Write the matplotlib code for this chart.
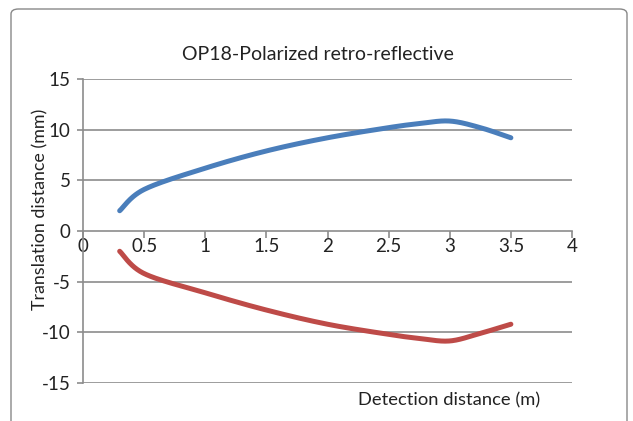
import numpy as np
import matplotlib
matplotlib.use("Agg")
import matplotlib.pyplot as plt
from matplotlib.patches import FancyBboxPatch

plt.rcParams['font.family'] = ['Lato', 'DejaVu Sans']
plt.rcParams['axes.unicode_minus'] = False

title = "OP18-Polarized retro-reflective"
x_label = "Detection distance (m)"
y_label = "Translation distance (mm)"

distance = [0.3, 0.5, 1.0, 1.5, 2.0, 2.5, 2.75, 3.0, 3.25, 3.5]
upper = [2.0, 4.1, 6.2, 7.9, 9.2, 10.2, 10.6, 10.85, 10.2, 9.2]
lower = [-2.0, -4.2, -6.1, -7.8, -9.2, -10.2, -10.6, -10.85, -10.1, -9.2]

x_ticks = [0, 0.5, 1, 1.5, 2, 2.5, 3, 3.5, 4]
x_tick_labels = ["0", "0.5", "1", "1.5", "2", "2.5", "3", "3.5", "4"]
y_ticks = [-15, -10, -5, 0, 5, 10, 15]


def smooth(xs, ys, n=40):
    xs = np.asarray(xs, float)
    ys = np.asarray(ys, float)
    pts = np.column_stack([xs, ys])
    out = []
    m = len(pts)
    t = np.linspace(0, 1, n)[:, None]
    for i in range(m - 1):
        p0 = pts[i - 1] if i > 0 else pts[i]
        p1 = pts[i]
        p2 = pts[i + 1]
        p3 = pts[i + 2] if i + 2 < m else pts[i + 1]
        c1 = p1 + (p2 - p0) / 6.0
        c2 = p2 - (p3 - p1) / 6.0
        seg = ((1 - t) ** 3) * p1 + 3 * ((1 - t) ** 2) * t * c1 + 3 * (1 - t) * t ** 2 * c2 + t ** 3 * p2
        out.append(seg if i == 0 else seg[1:])
    arr = np.vstack(out)
    return arr[:, 0], arr[:, 1]


W, H = 633, 421
fig = plt.figure(figsize=(W / 100, H / 100), dpi=100)

# chart border
border = FancyBboxPatch((11 / W, -0.2), (627 - 11) / W, (H - 9) / H + 0.2,
                        boxstyle="round,pad=0,rounding_size=0.012",
                        transform=fig.transFigure, fill=False,
                        edgecolor="#888888", linewidth=1.0)
fig.patches.append(border)

ax = fig.add_axes([83 / W, 1 - 383 / H, (572 - 83) / W, (383 - 79) / H])
ax.set_xlim(0, 4)
ax.set_ylim(-15, 15)

grid_c = "#8c8c8c"
for yv in y_ticks:
    if yv != 0:
        ax.axhline(yv, color=grid_c, lw=1.2, zorder=1)

for s in ["top", "right"]:
    ax.spines[s].set_visible(False)
ax.spines["bottom"].set_position(("data", 0))
ax.spines["bottom"].set_color(grid_c)
ax.spines["bottom"].set_linewidth(1.2)
ax.spines["left"].set_color(grid_c)
ax.spines["left"].set_linewidth(1.2)

ax.set_xticks(x_ticks)
ax.set_xticklabels(x_tick_labels)
ax.set_yticks(y_ticks)
ax.tick_params(axis="x", direction="out", length=5, width=1.2, color=grid_c,
               labelsize=13.5, labelcolor="#222222", pad=0)
ax.tick_params(axis="y", direction="out", length=4, width=1.2, color=grid_c,
               labelsize=13.5, labelcolor="#222222", pad=5)

xb, yb = smooth(distance, upper)
xr, yr = smooth(distance, lower)
ax.plot(xb, yb, color="#4a7ebb", lw=3.6, solid_capstyle="round", zorder=3)
ax.plot(xr, yr, color="#be4b48", lw=3.6, solid_capstyle="round", zorder=3)

fig.text(318 / W, 1 - 60 / H, title, ha="center", va="baseline", fontsize=14, color="#222222")
fig.text(449 / W, 1 - 400 / H, x_label, ha="center", va="center", fontsize=13.2, color="#222222")
fig.text(40 / W, 1 - 209 / H, y_label, ha="center", va="center", rotation=90, fontsize=12.9, color="#222222")

fig.savefig("out.png", dpi=100)
